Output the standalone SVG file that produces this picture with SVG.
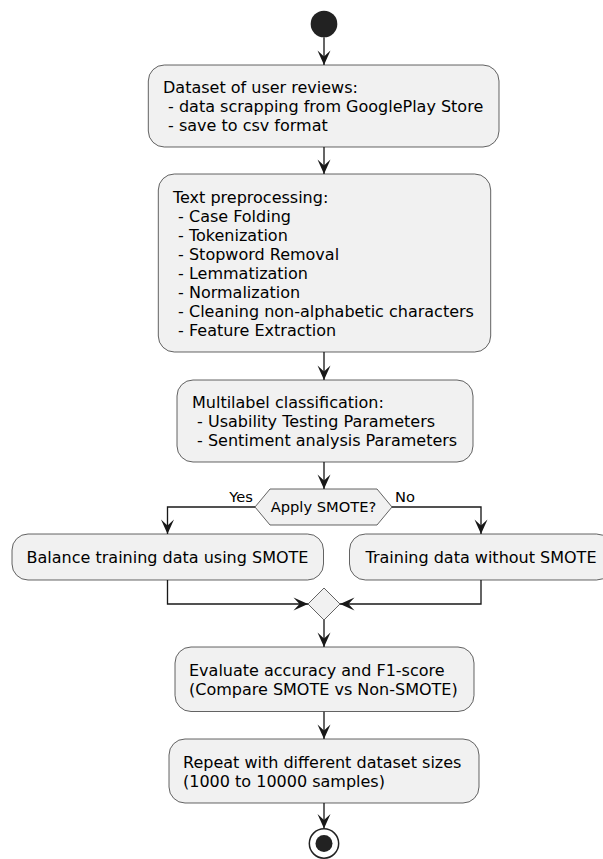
<svg xmlns="http://www.w3.org/2000/svg" width="603" height="859" viewBox="0 0 603 859">
<style>
.box{fill:#F1F1F1;stroke:#181818;stroke-width:0.67}
.t{font-family:"DejaVu Sans",sans-serif;font-size:16px;fill:#000}
.s{font-family:"DejaVu Sans",sans-serif;font-size:14.67px;fill:#000}
.c{fill:none;stroke:#181818;stroke-width:1.33}
</style>
<defs>
<marker id="ah" markerUnits="userSpaceOnUse" viewBox="-15 -8 16 16" markerWidth="16" markerHeight="16" refX="0" refY="0" orient="auto">
<path d="M0,0 L-14.5,-6.5 L-8.5,0 L-14.5,6.5 Z" fill="#181818"/>
</marker>
</defs>
<rect width="603" height="859" fill="#FFFFFF"/>
<g id="connectors">
<path class="c" d="M324,37.3 L324,65" marker-end="url(#ah)"/>
<path class="c" d="M324,147 L324,174" marker-end="url(#ah)"/>
<path class="c" d="M324,352 L324,380" marker-end="url(#ah)"/>
<path class="c" d="M324,462 L324,489" marker-end="url(#ah)"/>
<path class="c" d="M255,507 L167.5,507 L167.5,534" marker-end="url(#ah)"/>
<path class="c" d="M392,507 L481,507 L481,534" marker-end="url(#ah)"/>
<path class="c" d="M167.5,580 L167.5,604 L308,604" marker-end="url(#ah)"/>
<path class="c" d="M481,580 L481,604 L340,604" marker-end="url(#ah)"/>
<path class="c" d="M324,620 L324,647" marker-end="url(#ah)"/>
<path class="c" d="M324,711.5 L324,739" marker-end="url(#ah)"/>
<path class="c" d="M324,803 L324,828.5" marker-end="url(#ah)"/>
<text class="s" x="253" y="502" text-anchor="end">Yes</text>
<text class="s" x="395" y="502">No</text>
</g>
<g id="start"><circle cx="324" cy="24" r="13.33" fill="#222222"/></g>
<g id="n1">
<rect class="box" x="148.3" y="65" width="350.7" height="82" rx="16" ry="16"/>
<text class="t" x="163" y="93">Dataset of user reviews:</text>
<text class="t" x="168.1" y="112">- data scrapping from GooglePlay Store</text>
<text class="t" x="168.1" y="131">- save to csv format</text>
</g>
<g id="n2">
<rect class="box" x="158.3" y="174" width="332.4" height="178" rx="16" ry="16"/>
<text class="t" x="173" y="203">Text preprocessing:</text>
<text class="t" x="178.1" y="222">- Case Folding</text>
<text class="t" x="178.1" y="241">- Tokenization</text>
<text class="t" x="178.1" y="260">- Stopword Removal</text>
<text class="t" x="178.1" y="279">- Lemmatization</text>
<text class="t" x="178.1" y="298">- Normalization</text>
<text class="t" x="178.1" y="317">- Cleaning non-alphabetic characters</text>
<text class="t" x="178.1" y="336">- Feature Extraction</text>
</g>
<g id="n3">
<rect class="box" x="177" y="380" width="296" height="82" rx="16" ry="16"/>
<text class="t" x="192" y="408">Multilabel classification:</text>
<text class="t" x="197.1" y="427">- Usability Testing Parameters</text>
<text class="t" x="197.1" y="446">- Sentiment analysis Parameters</text>
</g>
<g id="decision">
<polygon class="box" points="270,489 377,489 392,507 377,525 270,525 255,507"/>
<text class="s" x="323.5" y="512" text-anchor="middle">Apply SMOTE?</text>
</g>
<g id="n4">
<rect class="box" x="12" y="534" width="311.5" height="46" rx="16" ry="16"/>
<text class="t" x="167.5" y="563" text-anchor="middle">Balance training data using SMOTE</text>
</g>
<g id="n5">
<rect class="box" x="349.5" y="534" width="263" height="46" rx="16" ry="16"/>
<text class="t" x="481" y="563" text-anchor="middle">Training data without SMOTE</text>
</g>
<g id="merge">
<polygon class="box" points="324,588 340,604 324,620 308,604"/>
</g>
<g id="n6">
<rect class="box" x="175" y="647" width="299" height="64.5" rx="16" ry="16"/>
<text class="t" x="189" y="676">Evaluate accuracy and F1-score</text>
<text class="t" x="189" y="695">(Compare SMOTE vs Non-SMOTE)</text>
</g>
<g id="n7">
<rect class="box" x="169" y="739" width="310" height="64" rx="16" ry="16"/>
<text class="t" x="183" y="768">Repeat with different dataset sizes</text>
<text class="t" x="183" y="787">(1000 to 10000 samples)</text>
</g>
<g id="end">
<circle cx="324" cy="843.5" r="14.67" fill="#FFFFFF" stroke="#222222" stroke-width="1.5"/>
<circle cx="324" cy="843.5" r="8.5" fill="#222222"/>
</g>
</svg>
